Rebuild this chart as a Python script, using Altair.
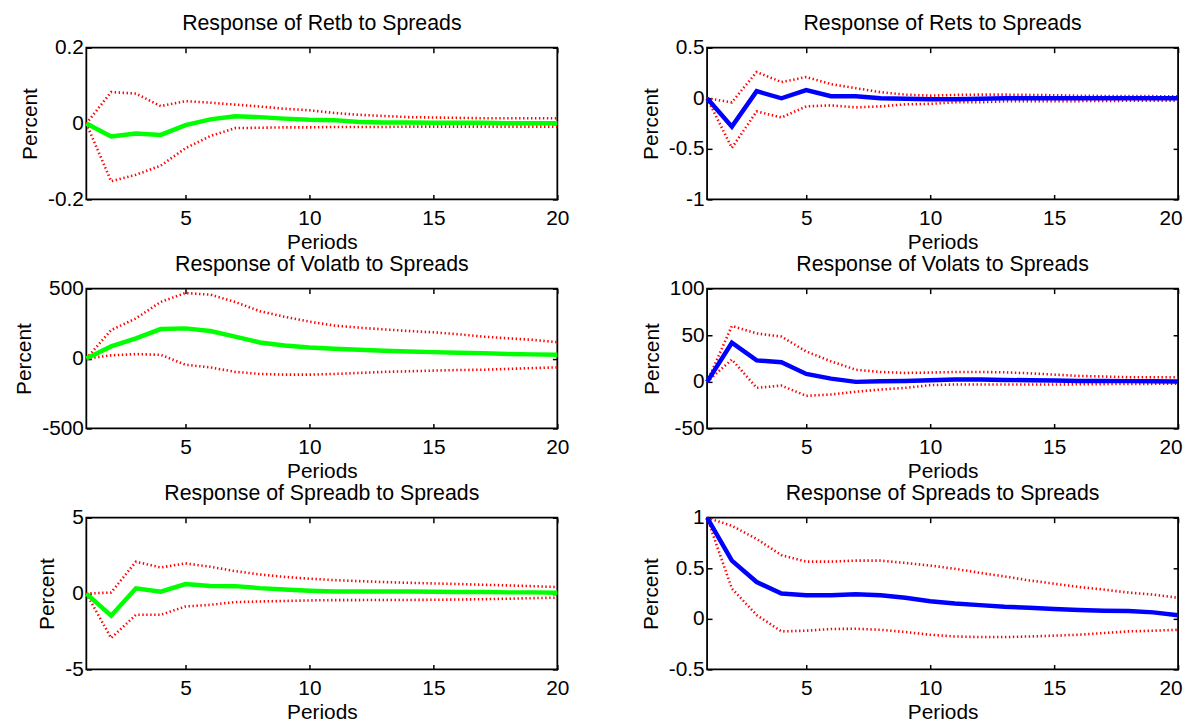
import altair as alt
import pandas as pd

FONT = "Liberation Sans"
periods = list(range(1, 21))
x_ticks = [5, 10, 15, 20]

# Response of Retb to Spreads
retb_resp = [0, -0.034, -0.026, -0.030, -0.004, 0.011, 0.019, 0.017, 0.013, 0.010,
             0.009, 0.004, 0.003, 0.003, 0.002, 0.002, 0.002, 0.001, 0.001, 0.001]
retb_hi = [0, 0.083, 0.079, 0.046, 0.059, 0.055, 0.050, 0.045, 0.039, 0.035,
           0.028, 0.023, 0.020, 0.017, 0.016, 0.015, 0.014, 0.014, 0.014, 0.014]
retb_lo = [0, -0.152, -0.135, -0.111, -0.065, -0.033, -0.012, -0.011, -0.010, -0.010,
           -0.009, -0.009, -0.009, -0.008, -0.008, -0.008, -0.008, -0.008, -0.008, -0.008]

# Response of Rets to Spreads
rets_resp = [0, -0.28, 0.07, 0.0, 0.08, 0.02, 0.02, 0.0, -0.005, -0.01,
             -0.01, -0.005, 0, 0, 0, 0, 0, 0, 0, 0]
rets_hi = [0, -0.04, 0.26, 0.16, 0.21, 0.14, 0.10, 0.06, 0.036, 0.026,
           0.033, 0.036, 0.036, 0.033, 0.03, 0.025, 0.023, 0.022, 0.021, 0.02]
rets_lo = [0, -0.49, -0.13, -0.19, -0.08, -0.07, -0.09, -0.08, -0.06, -0.055,
           -0.04, -0.04, -0.03, -0.03, -0.03, -0.028, -0.026, -0.025, -0.024, -0.023]

# Response of Volatb to Spreads
volatb_resp = [0, 87, 145, 211, 216, 197, 157, 115, 94, 79,
               70, 63, 56, 51, 46, 41, 39, 32, 30, 27]
volatb_hi = [0, 204, 287, 405, 469, 457, 405, 339, 299, 264,
             236, 221, 209, 197, 188, 174, 157, 145, 134, 117]
volatb_lo = [0, 23, 32, 27, -44, -63, -95, -110, -115, -115,
             -110, -103, -95, -91, -86, -82, -80, -74, -68, -63]

# Response of Volats to Spreads
volats_resp = [0, 42, 23, 21, 8.5, 3.5, 0, 0.7, 1, 1.8,
               2.5, 2.5, 2, 1.8, 1.4, 1, 1, 0.8, 0.6, 0.5]
volats_hi = [0, 60, 52, 48.6, 32.6, 22, 13, 10.6, 9.6, 10,
             10.6, 10.6, 10.3, 9.2, 7.8, 6.4, 5.7, 5, 5, 5]
volats_lo = [0, 24, -6.4, -4, -15, -13.5, -10.6, -8.2, -6.4, -3.5,
             -2.8, -2.8, -2.8, -2.8, -2.8, -2.6, -2.4, -2.2, -2.1, -2]

# Response of Spreadb to Spreads
spreadb_resp = [0, -1.46, 0.35, 0.13, 0.63, 0.5, 0.49, 0.36, 0.27, 0.19,
                0.14, 0.14, 0.14, 0.14, 0.12, 0.1, 0.1, 0.08, 0.08, 0.05]
spreadb_hi = [0, 0.07, 2.1, 1.72, 1.99, 1.77, 1.48, 1.26, 1.1, 0.98,
              0.89, 0.82, 0.76, 0.71, 0.67, 0.63, 0.58, 0.54, 0.49, 0.43]
spreadb_lo = [0, -2.93, -1.4, -1.4, -0.85, -0.74, -0.56, -0.52, -0.49, -0.45,
              -0.43, -0.43, -0.42, -0.42, -0.41, -0.39, -0.37, -0.34, -0.3, -0.27]

# Response of Spreads to Spreads
spreads_resp = [1, 0.576, 0.364, 0.25, 0.234, 0.234, 0.244, 0.234, 0.208, 0.175,
                0.152, 0.136, 0.12, 0.11, 0.097, 0.088, 0.08, 0.077, 0.064, 0.035]
spreads_hi = [1, 0.92, 0.79, 0.63, 0.566, 0.566, 0.576, 0.576, 0.553, 0.527,
              0.495, 0.455, 0.42, 0.38, 0.348, 0.315, 0.29, 0.26, 0.24, 0.208]
spreads_lo = [1, 0.3, 0.038, -0.124, -0.117, -0.10, -0.098, -0.108, -0.13, -0.157,
              -0.174, -0.18, -0.18, -0.174, -0.166, -0.157, -0.14, -0.124, -0.117, -0.108]

GREEN = "#00ff00"
BLUE = "#0000ff"
RED = "#ff0000"
W = 475
TICK = 5
LABEL_EXPR = "'' + datum.value"


def panel(title, resp, lo, hi, color, ydom, yvals, h, right_col):
    df_b = pd.DataFrame({
        "Period": periods * 2,
        "Value": lo + hi,
        "Band": ["lower"] * len(periods) + ["upper"] * len(periods),
    })
    df_m = pd.DataFrame({"Period": periods, "Value": resp})
    xs = alt.Scale(domain=[1, 20], nice=False, zero=False)
    ys = alt.Scale(domain=ydom, nice=False, zero=False)
    x_axis_kw = dict(values=x_ticks, orient="bottom", title="Periods", offset=-TICK,
                     labelPadding=8, titlePadding=3, labelExpr=LABEL_EXPR)
    if right_col:
        # the last label sits at the page edge; keep it inside the page
        x_axis_kw.update(labelFlush=True, labelFlushOffset=4)
    bands = alt.Chart(df_b).mark_line(
        color=RED, strokeWidth=2.6, strokeDash=[1.4, 2.6]
    ).encode(
        x=alt.X("Period:Q", scale=xs, axis=alt.Axis(**x_axis_kw)),
        y=alt.Y("Value:Q", scale=ys, axis=alt.Axis(
            values=yvals, orient="left", title="Percent", offset=-TICK,
            labelPadding=3, titlePadding=7, labelExpr=LABEL_EXPR)),
        detail="Band:N",
    )
    main = alt.Chart(df_m).mark_line(color=color, strokeWidth=4.5).encode(
        x=alt.X("Period:Q", scale=xs, axis=alt.Axis(
            values=x_ticks, orient="top", labels=False, title=None, offset=-TICK)),
        y=alt.Y("Value:Q", scale=ys, axis=alt.Axis(
            values=yvals, orient="right", labels=False, title=None, offset=-TICK)),
    )
    return alt.layer(bands, main).resolve_axis(
        x="independent", y="independent"
    ).properties(width=W, height=h, title=title)


p1 = panel("Response of Retb to Spreads", retb_resp, retb_lo, retb_hi, GREEN,
           [-0.2, 0.2], [-0.2, 0, 0.2], 153, False)
p2 = panel("Response of Rets to Spreads", rets_resp, rets_lo, rets_hi, BLUE,
           [-1, 0.5], [-1, -0.5, 0, 0.5], 153, True)
p3 = panel("Response of Volatb to Spreads", volatb_resp, volatb_lo, volatb_hi, GREEN,
           [-500, 500], [-500, 0, 500], 141, False)
p4 = panel("Response of Volats to Spreads", volats_resp, volats_lo, volats_hi, BLUE,
           [-50, 100], [-50, 0, 50, 100], 141, True)
p5 = panel("Response of Spreadb to Spreads", spreadb_resp, spreadb_lo, spreadb_hi, GREEN,
           [-5, 5], [-5, 0, 5], 153, False)
p6 = panel("Response of Spreads to Spreads", spreads_resp, spreads_lo, spreads_hi, BLUE,
           [-0.5, 1], [-0.5, 0, 0.5, 1], 153, True)

chart = alt.concat(
    p1, p2, p3, p4, p5, p6, columns=2,
    spacing={"row": 90, "column": 151}, bounds="flush",
).properties(
    padding={"left": 5, "top": 1, "right": 0, "bottom": 0},
    background="white",
).configure_view(
    stroke="black", strokeWidth=1.8
).configure_axis(
    labelFont=FONT, titleFont=FONT, labelFontSize=21, titleFontSize=21,
    titleFontWeight="normal", labelColor="black", titleColor="black",
    tickColor="black", tickSize=TICK, tickWidth=1.5, domain=False, grid=False,
    labelFlush=False, labelOverlap=False,
).configure_title(
    font=FONT, fontSize=21.5, fontWeight="normal", color="black", offset=2,
    anchor="middle",
)

chart.save("out.html", embed_options={"renderer": "svg", "actions": False})
